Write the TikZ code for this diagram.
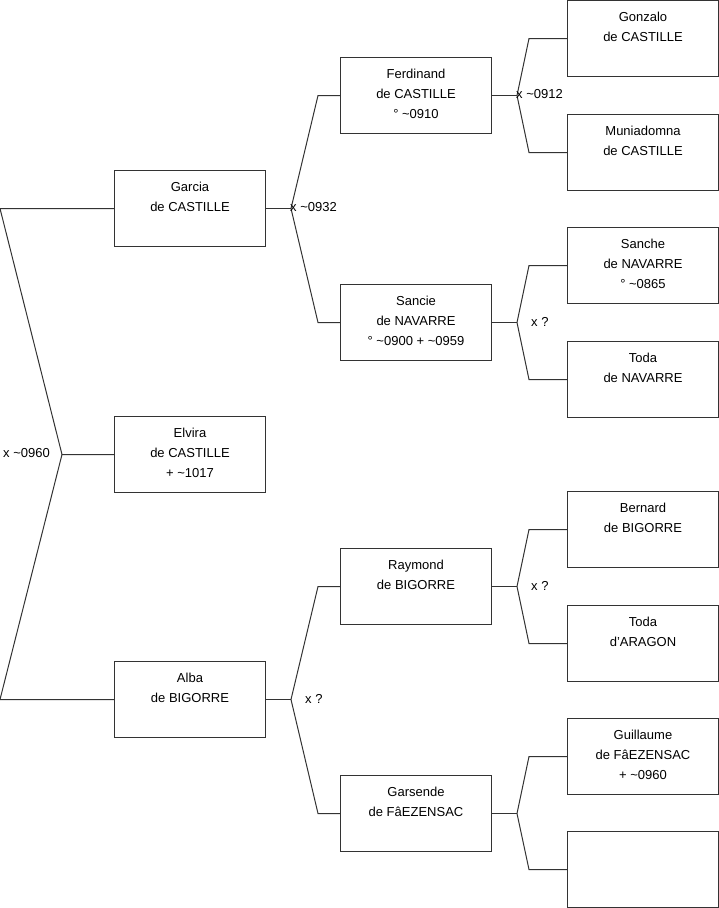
\documentclass[tikz,border=0pt]{standalone}
\usepackage{fontspec}
\setmainfont{Liberation Sans}
\usetikzlibrary{positioning}

\begin{document}
\begin{tikzpicture}[
  x=1pt,y=-1pt,
  person/.style={draw=black!80,line width=1pt,minimum width=151pt,minimum height=76pt,
    anchor=north west,inner sep=0pt,label={[who]north:{#1}}},
  who/.style={anchor=north,align=center,inner sep=0pt,yshift=-11.5pt,
    font=\fontsize{13}{20}\selectfont},
  tag/.style={font=\fontsize{13}{15}\selectfont,inner sep=0pt,yshift=1pt},
  link/.style={line width=1pt,draw=black!80}
]
\useasboundingbox (0,0) rectangle (719,908);

% first generation
\node[person={Garcia\\de CASTILLE}] (garcia) at (114,170) {};
\node[person={Elvira\\de CASTILLE\\+ \textasciitilde1017}] (elvira) at (114,416) {};
\node[person={Alba\\de BIGORRE}] (alba) at (114,661) {};

% second generation
\node[person={Ferdinand\\de CASTILLE\\° \textasciitilde0910}] (ferdinand) at (340,57) {};
\node[person={Sancie\\de NAVARRE\\° \textasciitilde0900 + \textasciitilde0959}] (sancie) at (340,284) {};
\node[person={Raymond\\de BIGORRE}] (raymond) at (340,548) {};
\node[person={Garsende\\de FâEZENSAC}] (garsende) at (340,775) {};

% third generation
\node[person={Gonzalo\\de CASTILLE}] (gonzalo) at (567,0) {};
\node[person={Muniadomna\\de CASTILLE}] (muniadomna) at (567,114) {};
\node[person={Sanche\\de NAVARRE\\° \textasciitilde0865}] (sanche) at (567,227) {};
\node[person={Toda\\de NAVARRE}] (todanav) at (567,341) {};
\node[person={Bernard\\de BIGORRE}] (bernard) at (567,491) {};
\node[person={Toda\\d'ARAGON}] (todaara) at (567,605) {};
\node[person={Guillaume\\de FâEZENSAC\\+ \textasciitilde0960}] (guillaume) at (567,718) {};
\node[person={}] (unknown) at (567,831) {};

% junctions
\coordinate (x0960) at ([xshift=-52pt]elvira.west);
\coordinate (x0932) at ([xshift=25pt]garcia.east);
\coordinate (xalba) at ([xshift=25pt]alba.east);
\coordinate (x0912) at ([xshift=25pt]ferdinand.east);
\coordinate (xsancie) at ([xshift=25pt]sancie.east);
\coordinate (xraymond) at ([xshift=25pt]raymond.east);
\coordinate (xgarsende) at ([xshift=25pt]garsende.east);

\draw[link] (garcia.west) -- (garcia.west -| 0,0) -- (x0960) -- (elvira.west);
\draw[link] (x0960) -- (alba.west -| 0,0) -- (alba.west);

\draw[link] (garcia.east) -- (x0932);
\draw[link] (ferdinand.west) -- ++(-22,0) -- (x0932) -- ([xshift=-22pt]sancie.west) -- (sancie.west);
\draw[link] (alba.east) -- (xalba);
\draw[link] (raymond.west) -- ++(-22,0) -- (xalba) -- ([xshift=-22pt]garsende.west) -- (garsende.west);

\draw[link] (ferdinand.east) -- (x0912);
\draw[link] (gonzalo.west) -- ++(-38,0) -- (x0912) -- ([xshift=-38pt]muniadomna.west) -- (muniadomna.west);
\draw[link] (sancie.east) -- (xsancie);
\draw[link] (sanche.west) -- ++(-38,0) -- (xsancie) -- ([xshift=-38pt]todanav.west) -- (todanav.west);
\draw[link] (raymond.east) -- (xraymond);
\draw[link] (bernard.west) -- ++(-38,0) -- (xraymond) -- ([xshift=-38pt]todaara.west) -- (todaara.west);
\draw[link] (garsende.east) -- (xgarsende);
\draw[link] (guillaume.west) -- ++(-38,0) -- (xgarsende) -- ([xshift=-38pt]unknown.west) -- (unknown.west);

% marriage tags
\node[tag,anchor=east] (m0960) at ([xshift=-12pt]x0960) {x \textasciitilde0960};
\node[tag,anchor=west] (m0932) at ([xshift=-1pt]x0932) {x \textasciitilde0932};
\node[tag,anchor=west] (m0912) at ([xshift=-1pt]x0912) {x \textasciitilde0912};
\node[tag,anchor=west] (msancie) at ([xshift=14pt]xsancie) {x ?};
\node[tag,anchor=west] (malba) at ([xshift=14pt]xalba) {x ?};
\node[tag,anchor=west] (mraymond) at ([xshift=14pt]xraymond) {x ?};
\end{tikzpicture}
\end{document}
